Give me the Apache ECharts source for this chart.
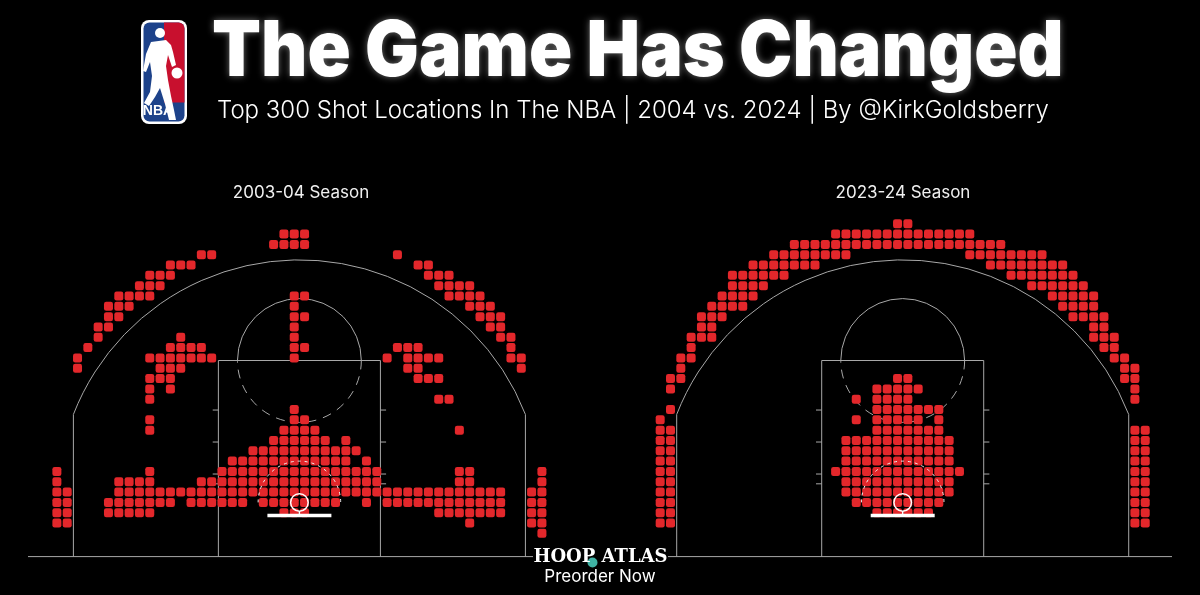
<!DOCTYPE html>
<html>
<head>
<meta charset="utf-8">
<script src="https://cdn.jsdelivr.net/npm/echarts/dist/echarts.min.js"></script>
<style>
html,body{margin:0;padding:0;background:#000;}
#c{width:1200px;height:595px;}
</style>
</head>
<body>
<div id="c"></div>
<script>
// ---- DATA: shot-location cells (1 ft bins). Each row: [feet above rim, list of column indices (cell spans col..col+1 ft)]
const rows2004 = [
  [26, [-2,-1,0]],
  [25, [-3,-2,-1,0]],
  [24, [-10,-9,9]],
  [23, [-13,-12,-11,11,12]],
  [22, [-15,-14,-13,12,13,14]],
  [21, [-16,-15,-14,13,14,15,16]],
  [20, [-18,-17,-16,-15,-1,0,14,15,16,17]],
  [19, [-19,-18,-17,-1,16,17,18]],
  [18, [-19,-18,-1,0,17,18,19]],
  [17, [-20,-19,-1,18,19]],
  [16, [-20,-12,-1,19,20]],
  [15, [-21,-13,-12,-11,-10,-1,0,9,10,11,20]],
  [14, [-22,-15,-14,-13,-12,-11,-10,-9,-1,8,10,11,12,13,20,21]],
  [13, [-22,-14,-13,-12,10,11,21]],
  [12, [-15,-14,-13,11,12,13]],
  [11, [-15,-13]],
  [10, [-15,13,14]],
  [9,  [-1]],
  [8,  [-15,-1,0]],
  [7,  [-15,-2,-1,0,1,15]],
  [6,  [-3,-2,-1,0,1,2,4]],
  [5,  [-5,-4,-3,-2,-1,0,1,2,3,4,5]],
  [4,  [-7,-6,-5,-4,-3,-2,-1,0,1,2,3,4,6]],
  [3,  [-24,-15,-8,-7,-6,-5,-4,-3,-2,-1,0,1,2,3,4,5,6,7,15,16,23]],
  [2,  [-24,-18,-17,-16,-15,-10,-9,-8,-7,-6,-5,-4,-3,-2,-1,0,1,2,3,4,5,6,7,15,16,23]],
  [1,  [-24,-23,-18,-17,-16,-15,-14,-13,-12,-11,-10,-9,-8,-7,-6,-5,-4,-3,-2,-1,0,1,2,3,4,5,6,7,8,9,10,11,12,13,14,15,16,17,18,19,22,23]],
  [0,  [-24,-23,-19,-18,-17,-16,-15,-14,-13,-11,-10,-9,-8,-7,-6,-4,-3,-2,-1,0,1,2,3,6,8,9,10,11,12,13,14,15,16,17,18,19,22,23]],
  [-1, [-24,-23,-19,-18,-17,-16,-15,-2,-1,0,13,14,15,16,17,18,19,22,23]],
  [-2, [-24,-23,16,22,23]],
  [-3, [23]]
];
const rows2024 = [
  [27, [-1,0]],
  [26, [-7,-6,-5,-4,-3,-2,-1,0,1,2,3,4,5,6]],
  [25, [-11,-10,-9,-8,-7,-6,-5,-4,-3,-2,-1,0,1,2,3,4,5,6,7,8,9]],
  [24, [-13,-12,-11,-10,-9,-8,-7,-6,6,7,8,9,10,11,12,13]],
  [23, [-15,-14,-13,-12,-11,-10,-9,8,9,10,11,12,13,14,15]],
  [22, [-17,-16,-15,-14,-13,-12,10,11,12,13,14,15,16]],
  [21, [-17,-16,-15,-14,12,13,14,15,16,17]],
  [20, [-18,-17,-16,-15,14,15,16,17,18]],
  [19, [-19,-18,-17,-16,15,16,17,18]],
  [18, [-20,-19,-18,16,17,18,19]],
  [17, [-20,-19,18,19]],
  [16, [-21,-20,-19,18,19,20]],
  [15, [-21,19,20]],
  [14, [-22,-21,20,21]],
  [13, [-22,21,22]],
  [12, [-23,-22,-1,0,21,22]],
  [11, [-23,-3,-2,-1,0,1,22]],
  [10, [-5,-3,-2,-1,0,22]],
  [9,  [-23,-3,-2,-1,0,1,2,3]],
  [8,  [-24,-5,-3,-2,-1,0,1,3]],
  [7,  [-24,-23,-3,-2,-1,0,1,2,3,22,23]],
  [6,  [-24,-23,-6,-5,-4,-3,-2,-1,0,1,2,3,4,22,23]],
  [5,  [-24,-23,-6,-5,-4,-3,-2,-1,0,1,2,3,4,22,23]],
  [4,  [-24,-23,-6,-5,-4,-3,-2,-1,0,1,2,3,4,22,23]],
  [3,  [-24,-23,-7,-6,-5,-4,-3,-2,-1,0,1,2,3,4,5,22,23]],
  [2,  [-24,-23,-6,-5,-4,-3,-2,-1,0,1,2,3,4,22,23]],
  [1,  [-24,-23,-6,-5,-4,-3,-2,-1,0,1,2,3,4,22,23]],
  [0,  [-24,-23,-5,-4,-3,-2,-1,0,1,2,3,22,23]],
  [-1, [-24,-23,-3,-2,-1,0,1,2,22,23]],
  [-2, [-24,-23,22,23]]
];
const seasonLabels = ['2003-04 Season', '2023-24 Season'];
const titleText = 'The Game Has Changed';
const subtitleText = 'Top 300 Shot Locations In The NBA | 2004 vs. 2024 | By @KirkGoldsberry';

function toPoints(rows){
  const out = [];
  rows.forEach(r => r[1].forEach(c => out.push([c + 0.5, r[0]])));
  return out;
}

// ---- court geometry (feet, rim at origin)
const BASE = -5.25, FTY = 13.75, LANE = 7.85, R3 = 23.5, C3 = 21.9;
const GRAY = '#a8a8a8';

function courtUnder(params, api){
  const P = (x,y) => api.coord([x,y]);
  const s = api.size([1,1])[0];
  const ls = {stroke: GRAY, lineWidth: 1, fill: null};
  const ch = [];
  ch.push({type:'polyline', shape:{points:[P(-LANE,BASE),P(-LANE,FTY),P(LANE,FTY),P(LANE,BASE)]}, style:ls});
  const ft = P(0,FTY);
  ch.push({type:'arc', shape:{cx:ft[0], cy:ft[1], r:6*s, startAngle:Math.PI, endAngle:2*Math.PI, clockwise:true}, style:ls});
  ch.push({type:'arc', shape:{cx:ft[0], cy:ft[1], r:6*s, startAngle:0, endAngle:Math.PI, clockwise:true}, style:Object.assign({}, ls, {lineDash:[9,7]})});
  const yj = Math.sqrt(R3*R3 - C3*C3);
  ch.push({type:'polyline', shape:{points:[P(-C3,BASE),P(-C3,yj)]}, style:ls});
  ch.push({type:'polyline', shape:{points:[P(C3,BASE),P(C3,yj)]}, style:ls});
  const a = Math.asin(yj/R3);
  const o = P(0,0);
  ch.push({type:'arc', shape:{cx:o[0], cy:o[1], r:R3*s, startAngle:Math.PI+a, endAngle:2*Math.PI-a, clockwise:true}, style:ls});
  [1.8, 2.75, 5.85, 8.95].forEach(y => {
    ch.push({type:'polyline', shape:{points:[P(-LANE-0.55,y),P(-LANE,y)]}, style:ls});
    ch.push({type:'polyline', shape:{points:[P(LANE,y),P(LANE+0.55,y)]}, style:ls});
  });
  return {type:'group', children: ch};
}
function courtOver(params, api){
  const P = (x,y) => api.coord([x,y]);
  const s = api.size([1,1])[0];
  const o = P(0,0);
  const ch = [];
  ch.push({type:'arc', shape:{cx:o[0], cy:o[1], r:4*s, startAngle:Math.PI, endAngle:2*Math.PI, clockwise:true},
    style:{stroke:'#f2f2f2', lineWidth:1, fill:null, lineDash:[3,4]}});
  ch.push({type:'circle', shape:{cx:o[0], cy:o[1], r:0.85*s}, style:{stroke:'#ffffff', lineWidth:1.5, fill:null}});
  ch.push({type:'polyline', shape:{points:[P(0,-0.85),P(0,-1.27)]}, style:{stroke:'#ffffff', lineWidth:1.5}});
  ch.push({type:'polyline', shape:{points:[P(-3.1,-1.27),P(3.1,-1.27)]}, style:{stroke:'#ffffff', lineWidth:3.5}});
  return {type:'group', children: ch};
}

const SCALE = 10.32;            // px per foot
const hoopX = [299.4, 902.7], hoopY = 502.4;
const grids = hoopX.map(hx => ({
  left: hx - 25*SCALE, width: 50*SCALE,
  top: hoopY - 28*SCALE, height: 33.25*SCALE,
  containLabel:false
}));

const chart = echarts.init(document.getElementById('c'), null, {renderer:'canvas'});
const RED = '#e3272b';
const series = [];
[rows2004, rows2024].forEach((rows, k) => {
  series.push({type:'custom', xAxisIndex:k, yAxisIndex:k, data:[[0,0]], renderItem:courtUnder, z:1, silent:true, clip:false});
  series.push({type:'scatter', xAxisIndex:k, yAxisIndex:k, data:toPoints(rows), symbol:'roundRect', symbolSize:9,
    itemStyle:{color:RED, opacity:1}, z:2, silent:true});
  series.push({type:'custom', xAxisIndex:k, yAxisIndex:k, data:[[0,0]], renderItem:courtOver, z:3, silent:true, clip:false});
});

const logoBody = [[151,42],[166,40],[171,45],[173,52],[176,65],[172,67],[168,55],[166,66],[168,80],[171,96],[174,110],[176,120],[169,120],[165,104],[160,88],[155,97],[149,106],[144,103],[150,92],[152,76],[150,62],[146,72],[143,71],[146,54]];

chart.setOption({
  backgroundColor:'#000',
  animation:false,
  grid: grids,
  xAxis: grids.map((g,i)=>({gridIndex:i, type:'value', min:-25, max:25, show:false})),
  yAxis: grids.map((g,i)=>({gridIndex:i, type:'value', min:BASE, max:28, show:false})),
  series: series,
  graphic: [
    {type:'line', shape:{x1:28, y1:556.6, x2:1172, y2:556.6}, style:{stroke:GRAY, lineWidth:1}, z:1},
    {type:'rect', shape:{x:141, y:20, width:46, height:104, r:8}, style:{fill:'#ffffff'}, z:5},
    {type:'rect', shape:{x:143.5, y:22.5, width:41, height:99, r:6}, style:{fill:'#1d428a'}, z:6},
    {type:'rect', shape:{x:164, y:22.5, width:20.5, height:80, r:[0,6,0,0]}, style:{fill:'#c8102e'}, z:7},
    {type:'polygon', shape:{points:logoBody}, style:{fill:'#ffffff'}, z:8},
    {type:'circle', shape:{cx:160, cy:33, r:5}, style:{fill:'#ffffff'}, z:8},
    {type:'circle', shape:{cx:177, cy:73, r:5.5}, style:{fill:'#ffffff'}, z:8},
    {type:'text', x:158, y:111, style:{text:'NBA', fill:'#ffffff', font:'bold 14px "Liberation Sans Narrow", "Liberation Sans", sans-serif', align:'center', verticalAlign:'middle'}, z:9},
    {type:'text', x:212, y:53, scaleX:0.928, style:{text:titleText, fill:'#ffffff', font:'900 77px Inter, Roboto, sans-serif', align:'left', verticalAlign:'middle', textShadowColor:'rgba(255,255,255,0.45)', textShadowBlur:7}, z:10},
    {type:'text', x:217, y:111, style:{text:subtitleText, fill:'#ffffff', font:'300 24px Inter, Roboto, sans-serif', align:'left', verticalAlign:'middle'}, z:10},
    {type:'text', x:301, y:193, style:{text:seasonLabels[0], fill:'#f0f0f0', font:'17px Inter, Roboto, sans-serif', align:'center', verticalAlign:'middle'}, z:10},
    {type:'text', x:903, y:193, style:{text:seasonLabels[1], fill:'#f0f0f0', font:'17px Inter, Roboto, sans-serif', align:'center', verticalAlign:'middle'}, z:10},
    {type:'rect', shape:{x:533, y:546, width:135, height:21}, style:{fill:'#000'}, z:10},
    {type:'circle', shape:{cx:592.5, cy:562.5, r:5}, style:{fill:'#3fb3a4'}, z:11},
    {type:'text', x:600.5, y:557.5, style:{text:'HOOP ATLAS', fill:'#ffffff', font:'bold 18px "DejaVu Serif", serif', align:'center', verticalAlign:'middle'}, z:12},
    {type:'text', x:600, y:577, style:{text:'Preorder Now', fill:'#ffffff', font:'17px Inter, Roboto, sans-serif', align:'center', verticalAlign:'middle'}, z:12}
  ]
});
</script>
</body>
</html>
